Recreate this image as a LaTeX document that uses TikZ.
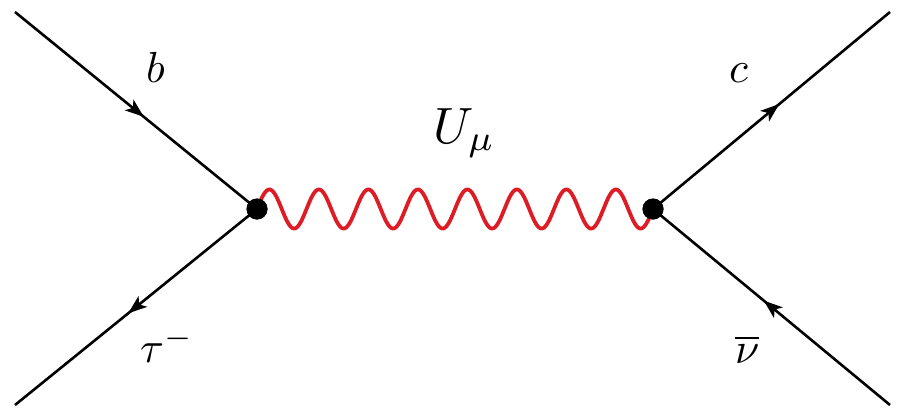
\documentclass[tikz,border=0pt]{standalone}
\usepackage{graphicx}
\usetikzlibrary{decorations.markings}
\definecolor{bosonred}{RGB}{222,28,38}
\newcommand{\lblmath}[2][4.35]{\scalebox{#1}{$#2$}}
\begin{document}
\begin{tikzpicture}[x=1pt,y=-1pt,
  fermion/.style={line width=2.6pt,black,postaction={decorate},
    decoration={markings,mark=at position 0.5 with {\fill[black] (10pt,0pt) -- (-9pt,7pt) -- (-4pt,0pt) -- (-9pt,-7pt) -- cycle;}}},
  vertex/.style={circle,fill=black,inner sep=0pt,minimum size=21pt},
  boson/.style={line width=3.8pt,bosonred,line join=round},
  lbl/.style={inner sep=0pt,anchor=base west}]
\useasboundingbox (0,0) rectangle (903,410);
\coordinate (tl) at (15,12);
\coordinate (bl) at (15,405);
\coordinate (tr) at (890,12);
\coordinate (br) at (890,405);
\node[vertex] (L) at (257,209) {};
\node[vertex] (R) at (653,209) {};
\draw[boson] plot[domain=0:2880,samples=400] ({257+\x*0.1375},{209-19.5*sin(\x)});
\draw[fermion] (tl) -- (L.center);
\draw[fermion] (L.center) -- (bl);
\draw[fermion] (R.center) -- (tr);
\draw[fermion] (br) -- (R.center);
\node[vertex] at (L) {};
\node[vertex] at (R) {};
\node[lbl] (lb) at (146,82) {\lblmath{b}};
\node[lbl] (lc) at (729,82) {\lblmath{c}};
\node[lbl] (lu) at (433,143) {\lblmath[5.1]{U_\mu}};
\node[lbl] (lt) at (140,362) {\lblmath{\tau^-}};
\node[lbl] (ln) at (735,363) {\lblmath{\overline{\nu}}};
\end{tikzpicture}
\end{document}
